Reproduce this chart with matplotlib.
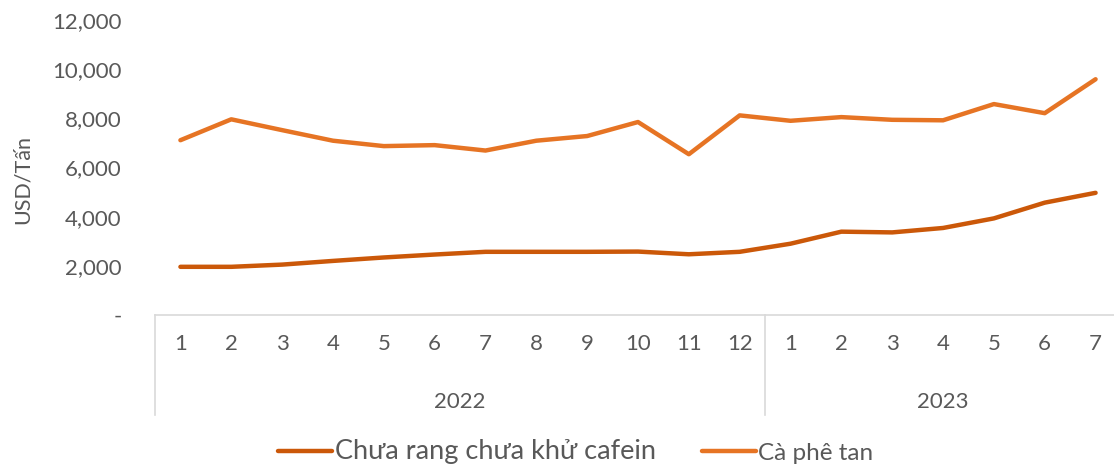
import matplotlib
matplotlib.use("Agg")
import matplotlib.pyplot as plt
from matplotlib.ticker import FuncFormatter
import matplotlib.transforms as mtransforms

plt.rcParams['font.family'] = ['Lato', 'DejaVu Sans']

months = ['1', '2', '3', '4', '5', '6', '7', '8', '9', '10', '11', '12',
          '1', '2', '3', '4', '5', '6', '7']
years = ['2022', '2023']
year_counts = [12, 7]

chua_rang = [1960, 1960, 2050, 2200, 2340, 2460, 2570, 2570, 2570, 2580, 2470, 2570,
             2900, 3390, 3360, 3540, 3930, 4570, 4970]
ca_phe_tan = [7110, 7960, 7520, 7090, 6870, 6910, 6690, 7090, 7280, 7850, 6540, 8120,
              7900, 8050, 7940, 7920, 8580, 8210, 9590]

series_names = ['Chưa rang chưa khử cafein', 'Cà phê tan']
c_dark = '#CB5809'
c_light = '#E67424'
txt = '#595959'
grid_c = '#D9D9D9'

W, H = 1114, 466
fig = plt.figure(figsize=(W / 100, H / 100), dpi=100)
left, right, bottom, top = 155, 1121, 315, 20
ax = fig.add_axes([left / W, (H - bottom) / H, (right - left) / W, (bottom - top) / H])

x = list(range(len(months)))
ax.plot(x, chua_rang, color=c_dark, lw=3.2, solid_capstyle='round', label=series_names[0])
ax.plot(x, ca_phe_tan, color=c_light, lw=3.2, solid_capstyle='round', label=series_names[1])

ax.set_xlim(-0.5, len(months) - 0.5)
ax.set_ylim(0, 12000)
ax.set_yticks(range(0, 12001, 2000))
ax.yaxis.set_major_formatter(FuncFormatter(lambda v, p: '-' if v == 0 else f'{v:,.0f}'))
ax.tick_params(axis='y', length=0, pad=24, labelsize=16, labelcolor=txt)
ax.set_xticks(x)
ax.set_xticklabels(months)
ax.tick_params(axis='x', length=0, pad=14, labelsize=16, labelcolor=txt)

for s in ['left', 'right', 'top']:
    ax.spines[s].set_visible(False)
ax.spines['bottom'].set_color(grid_c)
ax.spines['bottom'].set_linewidth(1.2)

trans = mtransforms.blended_transform_factory(ax.transData, ax.transAxes)
ybot = -(415 - bottom) / (bottom - top)
pos = -0.5
bounds = [pos]
for cnt in year_counts:
    pos += cnt
    bounds.append(pos)
for b in bounds:
    ax.plot([b, b], [0, ybot], transform=trans, color=grid_c, lw=1.2, clip_on=False)
yyear = -(402 - bottom) / (bottom - top)
for i, yr in enumerate(years):
    cx = (bounds[i] + bounds[i + 1]) / 2
    ax.text(cx, yyear, yr, transform=trans, ha='center', va='center', fontsize=16, color=txt)

ax.set_ylabel('USD/Tấn', fontsize=15.5, color=txt)
ax.yaxis.set_label_coords(-(left - 33) / (right - left), (bottom - 180) / (bottom - top))

leg = fig.legend(loc='center', bbox_to_anchor=(576 / W, (H - 452) / H), ncol=2, frameon=False,
                 handlelength=2.2, handletextpad=0.12, columnspacing=1.9, fontsize=17.5)
for t in leg.get_texts():
    t.set_color(txt)
leg.get_texts()[0].set_fontsize(19.5)

fig.savefig('out.png', dpi=100)
